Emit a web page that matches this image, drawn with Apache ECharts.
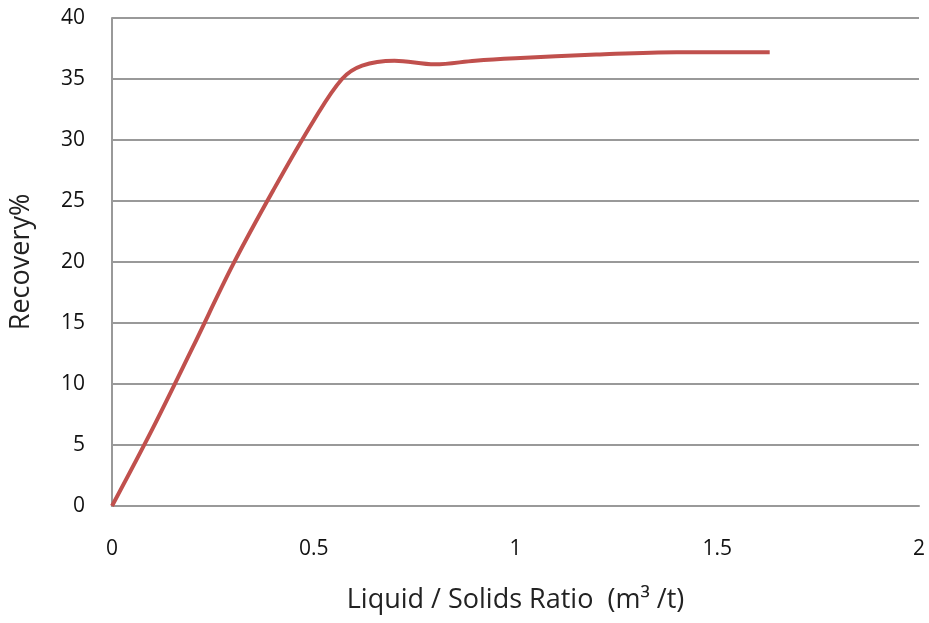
<!DOCTYPE html>
<html>
<head>
<meta charset="utf-8">
<script src="https://cdn.jsdelivr.net/npm/echarts@6/dist/echarts.min.js"></script>
<style>html,body{margin:0;padding:0;background:#fff}#c{width:929px;height:623px}</style>
</head>
<body>
<div id="c"></div>
<script>
var ratio = [0, 0.1, 0.2, 0.3, 0.4, 0.5, 0.57, 0.62, 0.7, 0.8, 0.9, 1.0, 1.2, 1.4, 1.63];
var recovery = [0, 6.3, 13, 19.8, 25.9, 31.6, 35, 36.1, 36.5, 36.2, 36.5, 36.7, 37.0, 37.2, 37.2];
var xTicks = [0, 0.5, 1, 1.5, 2];
var yTicks = [0, 5, 10, 15, 20, 25, 30, 35, 40];
var xTitle = 'Liquid / Solids Ratio  (m\u00B3 /t)';
var yTitle = 'Recovery%';

var pts = ratio.map(function (x, i) { return [x, recovery[i]]; });
var font = 'Open Sans';
var chart = echarts.init(document.getElementById('c'));
chart.setOption({
  animation: false,
  backgroundColor: '#fff',
  grid: { left: 111, right: 10, top: 18, bottom: 117, containLabel: false },
  xAxis: {
    type: 'value', min: xTicks[0], max: xTicks[xTicks.length - 1], interval: 0.5,
    name: xTitle, nameLocation: 'middle', nameGap: 81,
    nameTextStyle: { fontFamily: font, fontSize: 27, color: '#222' },
    axisLine: { show: true, lineStyle: { color: '#999', width: 2 } },
    axisTick: { show: false },
    splitLine: { show: false },
    axisLabel: { margin: 33, fontFamily: font, fontSize: 21, color: '#111' }
  },
  yAxis: {
    type: 'value', min: yTicks[0], max: yTicks[yTicks.length - 1], interval: 5,
    name: yTitle, nameLocation: 'middle', nameGap: 77,
    nameTextStyle: { fontFamily: font, fontSize: 27, color: '#222' },
    axisLine: { show: true, lineStyle: { color: '#999', width: 2 } },
    axisTick: { show: false },
    splitLine: { show: true, lineStyle: { color: '#999', width: 2 } },
    axisLabel: { margin: 27, fontFamily: font, fontSize: 21, color: '#111' }
  },
  series: [{
    type: 'line', data: pts, smooth: 0.35, showSymbol: false,
    lineStyle: { color: '#C0504D', width: 4 }
  }]
});
</script>
</body>
</html>
